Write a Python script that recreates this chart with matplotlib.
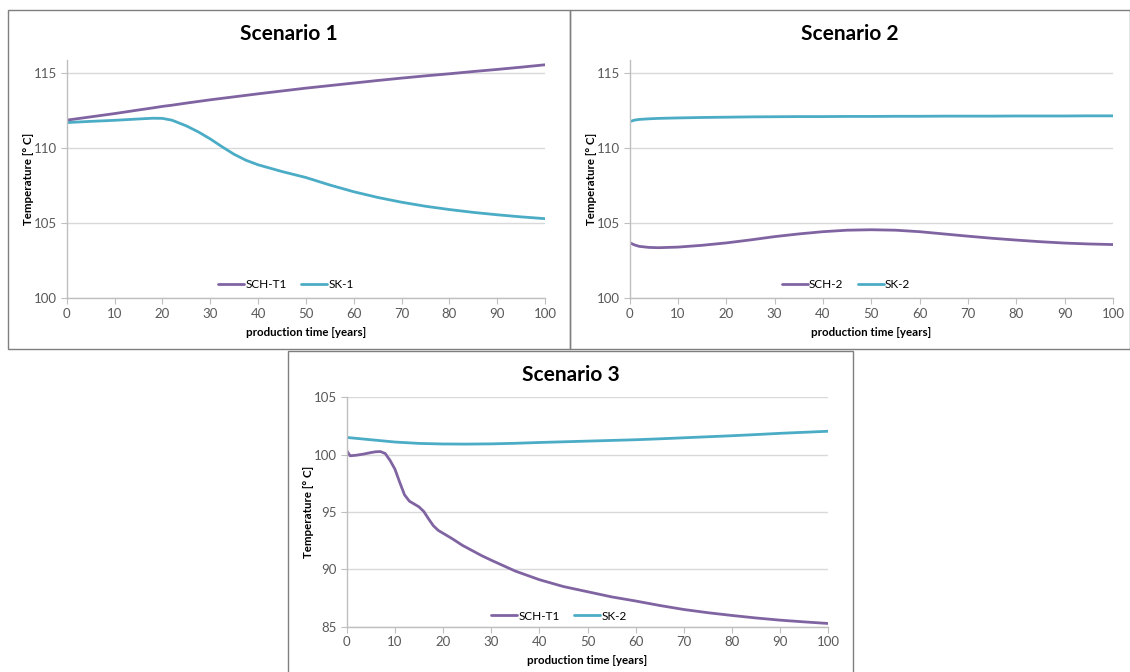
import matplotlib
matplotlib.use('Agg')
import matplotlib.pyplot as plt
from matplotlib.patches import Rectangle

plt.rcParams['font.family'] = ['Lato', 'DejaVu Sans']

# scenario 1
years_s1 = [0, 5, 10, 15, 18, 20, 22, 25, 27.5, 30, 32.5, 35, 37.5, 40, 45, 50,
            55, 60, 65, 70, 75, 80, 85, 90, 95, 100]
sch_t1_s1 = [111.88, 112.1, 112.32, 112.56, 112.7, 112.8, 112.88, 113.02, 113.13,
             113.24, 113.34, 113.44, 113.54, 113.64, 113.83, 114.02, 114.19, 114.36,
             114.53, 114.69, 114.84, 114.98, 115.13, 115.27, 115.42, 115.58]
sk_1_s1 = [111.72, 111.8, 111.87, 111.96, 112.01, 112.0, 111.88, 111.5, 111.1,
           110.63, 110.1, 109.6, 109.2, 108.9, 108.45, 108.05, 107.55, 107.1,
           106.72, 106.4, 106.13, 105.91, 105.72, 105.56, 105.42, 105.3]

# scenario 2
years_s2 = [0, 1, 2, 4, 6, 10, 15, 20, 25, 30, 35, 40, 45, 50, 55, 60, 65, 70,
            75, 80, 85, 90, 95, 100]
sch_2_s2 = [103.7, 103.55, 103.45, 103.38, 103.36, 103.4, 103.52, 103.68, 103.88,
            104.1, 104.28, 104.43, 104.53, 104.56, 104.53, 104.43, 104.28, 104.13,
            103.99, 103.87, 103.76, 103.67, 103.61, 103.57]
sk_2_s2 = [111.78, 111.88, 111.93, 111.97, 112.0, 112.03, 112.06, 112.08, 112.1,
           112.11, 112.12, 112.12, 112.13, 112.13, 112.14, 112.14, 112.15, 112.15,
           112.15, 112.16, 112.16, 112.16, 112.17, 112.17]

# scenario 3
years_s3_sch = [0, 0.7, 2, 3.5, 5, 6, 7, 8, 9, 10, 11, 12, 13, 14, 15, 16, 17, 18,
                19, 20, 22, 24, 26, 28, 30, 35, 40, 45, 50, 55, 60, 65, 70, 75, 80,
                85, 90, 95, 100]
sch_t1_s3 = [100.35, 99.9, 99.95, 100.05, 100.18, 100.25, 100.27, 100.1, 99.5,
             98.75, 97.6, 96.5, 95.95, 95.7, 95.45, 95.05, 94.4, 93.8, 93.4, 93.15,
             92.65, 92.1, 91.65, 91.2, 90.8, 89.85, 89.1, 88.5, 88.05, 87.6, 87.24,
             86.85, 86.5, 86.22, 85.98, 85.76, 85.57, 85.42, 85.28]
years_s3_sk = [0, 5, 10, 15, 20, 25, 30, 35, 40, 45, 50, 55, 60, 65, 70, 75, 80,
               85, 90, 95, 100]
sk_2_s3 = [101.5, 101.3, 101.1, 100.98, 100.93, 100.92, 100.94, 100.99, 101.06,
           101.12, 101.18, 101.24, 101.3, 101.38, 101.47, 101.56, 101.65, 101.75,
           101.86, 101.95, 102.04]

PURPLE = '#8064A2'
AQUA = '#4BACC6'
W, H = 1130, 672


def fx(px):
    return px / W


def fy(py):
    return 1 - py / H


def panel(fig, rect, frame, title, series, ylim, yticks, legend_xy):
    # frame of the chart, in pixels (x0, y0, x1, y1)
    x0, y0, x1, y1 = frame
    fig.add_artist(Rectangle((fx(x0), fy(y1)), fx(x1 - x0), (y1 - y0) / H,
                             transform=fig.transFigure, fill=False,
                             edgecolor='#7f7f7f', lw=1))
    fig.text(fx((x0 + x1) / 2), fy(y0 + 24), title, ha='center', va='center',
             fontsize=15, fontweight='bold')

    l, t, r, b = rect
    ax = fig.add_axes([fx(l), fy(b), fx(r - l), (b - t) / H])
    for xs, ys, name, col in series:
        ax.plot(xs, ys, color=col, lw=2.0, label=name, solid_capstyle='round')
    ax.set_xlim(0, 100)
    ax.set_ylim(*ylim)
    ax.set_xticks(range(0, 101, 10))
    ax.set_yticks(yticks)
    ax.grid(axis='y', color='#D9D9D9', lw=1)
    ax.set_axisbelow(True)
    for s in ['top', 'right']:
        ax.spines[s].set_visible(False)
    for s in ['left', 'bottom']:
        ax.spines[s].set_color('#BFBFBF')
        ax.spines[s].set_linewidth(1)
    ax.tick_params(axis='both', direction='out', length=4, color='#BFBFBF',
                   labelsize=9.5, labelcolor='#595959', pad=3)
    ax.set_xlabel('production time [years]', fontsize=8.3, fontweight='bold',
                  labelpad=5)
    ax.set_ylabel('Temperature [° C]', fontsize=8.3, fontweight='bold',
                  labelpad=0)
    ax.legend(loc='center', bbox_to_anchor=(fx(legend_xy[0]), fy(legend_xy[1])),
              bbox_transform=fig.transFigure, ncol=2, frameon=False,
              fontsize=8.5, handlelength=2.2, handletextpad=0.1,
              columnspacing=1.2)
    return ax


fig = plt.figure(figsize=(11.3, 6.72), dpi=100)

panel(fig, (66.7, 60, 545, 298), (8, 9.5, 570, 349), 'Scenario 1',
      [(years_s1, sch_t1_s1, 'SCH-T1', PURPLE), (years_s1, sk_1_s1, 'SK-1', AQUA)],
      (100, 115.9), [100, 105, 110, 115], (286, 285))

panel(fig, (629.5, 60, 1113, 298), (570, 9.5, 1129.5, 349), 'Scenario 2',
      [(years_s2, sch_2_s2, 'SCH-2', PURPLE), (years_s2, sk_2_s2, 'SK-2', AQUA)],
      (100, 115.9), [100, 105, 110, 115], (846, 285))

panel(fig, (346.7, 397.3, 828.3, 626.7), (288, 351, 853, 680), 'Scenario 3',
      [(years_s3_sch, sch_t1_s3, 'SCH-T1', PURPLE),
       (years_s3_sk, sk_2_s3, 'SK-2', AQUA)],
      (85, 105), [85, 90, 95, 100, 105], (559, 616))

fig.savefig('out.png', dpi=100)
